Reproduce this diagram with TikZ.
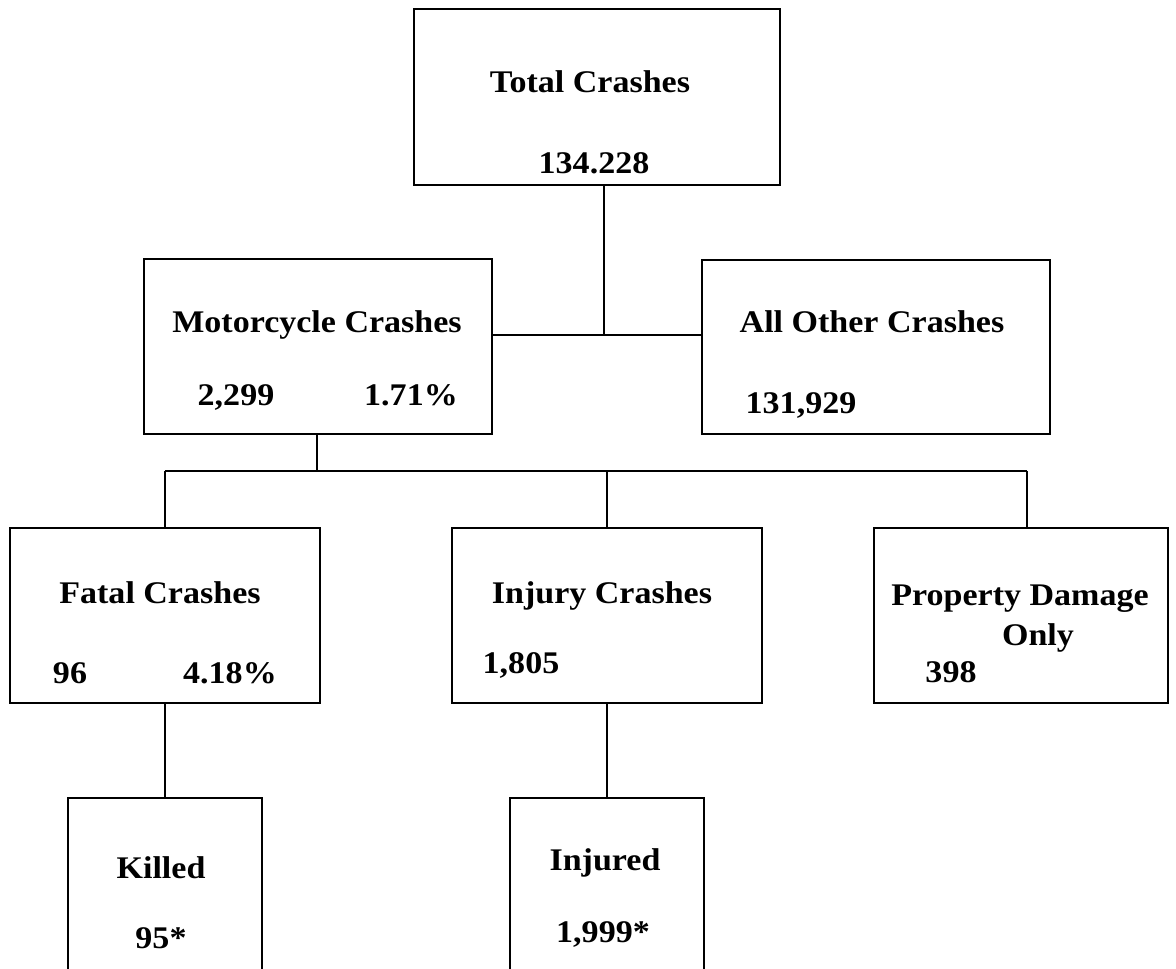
\documentclass[tikz,border=0pt]{standalone}
\usepackage{fontspec}
\setmainfont{Liberation Serif}[FakeStretch=1.08]
\begin{document}
\begin{tikzpicture}[x=1pt,y=-1pt,
  box/.style={draw,line width=2pt,rectangle,inner sep=0pt,anchor=north west},
  lbl/.style={font=\fontsize{31.5}{36}\selectfont\bfseries,inner sep=0pt,anchor=base},
  wire/.style={line width=2pt}]
\useasboundingbox (0,0) rectangle (1176,969);
\clip (0,0) rectangle (1176,969);
% boxes
\node[box,minimum width=366pt,minimum height=176pt] (total) at (413,8) {};
\node[box,minimum width=348pt,minimum height=175pt] (moto) at (143,258) {};
\node[box,minimum width=348pt,minimum height=174pt] (other) at (701,259) {};
\node[box,minimum width=310pt,minimum height=175pt] (fatal) at (9,527) {};
\node[box,minimum width=310pt,minimum height=175pt] (injury) at (451,527) {};
\node[box,minimum width=294pt,minimum height=175pt] (prop) at (873,527) {};
\node[box,minimum width=194pt,minimum height=200pt] (killed) at (67,797) {};
\node[box,minimum width=194pt,minimum height=200pt] (injured) at (509,797) {};
% texts
\node[lbl] (t1) at (590,92) {Total Crashes};
\node[lbl] (t2) at (594,173) {134.228};
\node[lbl] (m1) at (317,332) {Motorcycle Crashes};
\node[lbl] (m2) at (236,405) {2,299};
\node[lbl] (m3) at (411,405) {1.71\%};
\node[lbl] (o1) at (872,332) {All Other Crashes};
\node[lbl] (o2) at (801,413) {131,929};
\node[lbl] (f1) at (160,603) {Fatal Crashes};
\node[lbl] (f2) at (70,683) {96};
\node[lbl] (f3) at (230,683) {4.18\%};
\node[lbl] (i1) at (602,603) {Injury Crashes};
\node[lbl] (i2) at (521,673) {1,805};
\node[lbl] (p1) at (1020,605) {Property Damage};
\node[lbl] (p2) at (1038,645) {Only};
\node[lbl] (p3) at (951,682) {398};
\node[lbl] (k1) at (161,878) {Killed};
\node[lbl] (k2) at (161,948) {95*};
\node[lbl] (j1) at (605,870) {Injured};
\node[lbl] (j2) at (603,942) {1,999*};
% connectors
\coordinate (j0) at (604,335);
\coordinate (j1c) at (317,471);
\coordinate (pr) at (1027,471);
\draw[wire] (total.south -| j0) -- (j0);
\draw[wire] (moto.east |- j0) -- (other.west |- j0);
\draw[wire] (moto.south -| j1c) -- (j1c);
\draw[wire] (fatal.north |- j1c) -- (pr);
\draw[wire] (fatal.north |- j1c) -- (fatal.north);
\draw[wire] (injury.north |- j1c) -- (injury.north);
\draw[wire] (pr) -- (prop.north -| pr);
\draw[wire] (fatal.south) -- (killed.north);
\draw[wire] (injury.south) -- (injured.north);
\end{tikzpicture}
\end{document}
